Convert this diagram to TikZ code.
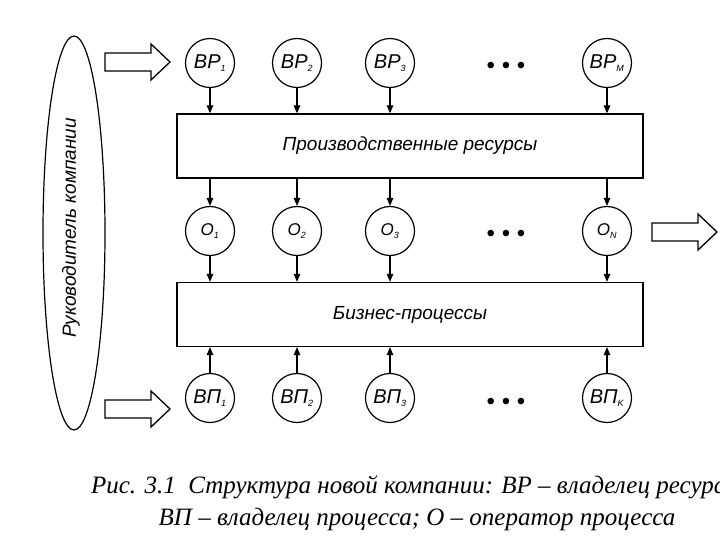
\documentclass[tikz,border=0pt]{standalone}
\usepackage{fontspec}
\setmainfont{Liberation Sans}
\newfontfamily\capfont{Liberation Serif}
\usetikzlibrary{arrows.meta, shapes.geometric}

\tikzset{
  >={Triangle[length=8pt, width=6.5pt]},
  owner/.style={draw, circle, line width=1.2pt, minimum size=49pt, inner sep=0pt, font=\itshape\fontsize{20}{20}\selectfont},
  oper/.style={owner, font=\itshape\fontsize{17}{17}\selectfont},
  layer/.style={draw, line width=1.3pt, minimum width=466pt, minimum height=64pt, font=\itshape\fontsize{19}{19}\selectfont},
  link/.style={->, line width=1.2pt},
  dotsrow/.style={font=\fontsize{24}{24}\selectfont},
  fatarrow/.pic={\draw[line width=1.3pt] (0,-9) -- (46,-9) -- (46,-18) -- (65,0) -- (46,18) -- (46,9) -- (0,9) -- cycle;}
}
\newcommand\lowidx[1]{\textsubscript{\fontsize{9}{9}\selectfont#1}}

\begin{document}
\begin{tikzpicture}[x=1pt, y=-1pt]
                \useasboundingbox (0,0) rectangle (720,540);
                % руководитель и входы/выход
                \node[draw, ellipse, line width=1.2pt, minimum width=62pt, minimum height=394pt, inner sep=0pt] (boss) at (74,233) {};
                \node[rotate=90, font=\itshape\fontsize{19}{19}\selectfont] (bosstext) at (71,228) {Руководитель компании};
                \pic at (105,62) {fatarrow};
                \pic at (105,409) {fatarrow};
                \pic at (652,232) {fatarrow};
                % владельцы ресурсов
                \node[owner] (bp1) at (210,63) {ВР\lowidx{1}};
                \node[owner] (bp2) at (297,63) {ВР\lowidx{2}};
                \node[owner] (bp3) at (390,63) {ВР\lowidx{3}};
                \node[dotsrow] (bpdots) at (506,68) {• • •};
                \node[owner] (bpm) at (607,63) {ВР\lowidx{M}};
                \node[layer] (prod) at (410,146) {Производственные ресурсы};
                % операторы
                \node[oper] (o1) at (210,231) {O\lowidx{1}};
                \node[oper] (o2) at (297,231) {O\lowidx{2}};
                \node[oper] (o3) at (390,231) {O\lowidx{3}};
                \node[dotsrow] (odots) at (506,236) {• • •};
                \node[oper] (on) at (607,231) {O\lowidx{N}};
                \node[layer] (biz) at (410,314.5) {Бизнес-процессы};
                % владельцы процессов
                \node[owner] (vp1) at (210,398) {ВП\lowidx{1}};
                \node[owner] (vp2) at (297,398) {ВП\lowidx{2}};
                \node[owner] (vp3) at (390,398) {ВП\lowidx{3}};
                \node[dotsrow] (vpdots) at (506,404) {• • •};
                \node[owner] (vpk) at (607,398) {ВП\lowidx{K}};
                % связи
                \draw[link] (bp1) -- (bp1 |- prod.north);
                \draw[link] (bp2) -- (bp2 |- prod.north);
                \draw[link] (bp3) -- (bp3 |- prod.north);
                \draw[link] (bpm) -- (bpm |- prod.north);
                \draw[link] (o1 |- prod.south) -- (o1);
                \draw[link] (o2 |- prod.south) -- (o2);
                \draw[link] (o3 |- prod.south) -- (o3);
                \draw[link] (on |- prod.south) -- (on);
                \draw[link] (o1) -- (o1 |- biz.north);
                \draw[link] (o2) -- (o2 |- biz.north);
                \draw[link] (o3) -- (o3 |- biz.north);
                \draw[link] (on) -- (on |- biz.north);
                \draw[link] (vp1) -- (vp1 |- biz.south);
                \draw[link] (vp2) -- (vp2 |- biz.south);
                \draw[link] (vp3) -- (vp3 |- biz.south);
                \draw[link] (vpk) -- (vpk |- biz.south);
                % подпись
                \node[align=center, font=\capfont\itshape\fontsize{25}{32}\selectfont] (caption) at (417,503) {Рис. 3.1\ \ Структура новой компании: ВР – владелец ресурса,\\ВП – владелец процесса; О – оператор процесса};
            \end{tikzpicture}
\end{document}
